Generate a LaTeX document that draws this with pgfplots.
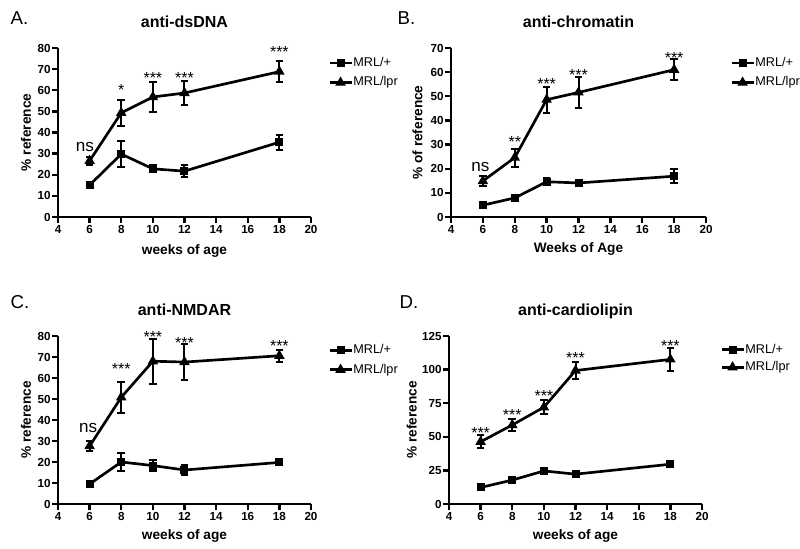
\documentclass[border=0pt]{standalone}
\usepackage{fontspec}
\setmainfont{Liberation Sans}
\usepackage{pgfplots}
\pgfplotsset{compat=1.18}

% common look of the four panels (1px = 0.75pt)
\pgfplotsset{
  panel/.style={
    scale only axis,
    clip=false,
    axis lines=left,
    axis line style={-, line width=2pt},
    tick style={line width=1.8pt, black},
    major tick length=4.5pt,
    tick align=outside,
    xmin=4, xmax=20, xtick={4,6,...,20},
    ymin=0,
    tick label style={font=\bfseries\fontsize{8.75}{9}\selectfont},
    xticklabel style={inner sep=1.5pt},
    yticklabel style={inner sep=0.8pt},
    /pgf/number format/assume math mode=true,
    label style={font=\bfseries\fontsize{10.25}{12}\selectfont},
    every axis title shift=0pt,
    title style={font=\bfseries\fontsize{12}{13}\selectfont, anchor=base, yshift=0pt},
    xlabel style={anchor=base},
    ylabel style={anchor=base, at={(-0.107,0.5)}},
    legend style={draw=none, fill=none, anchor=west, inner sep=0pt,
      font=\fontsize{9.5}{11}\selectfont,
      nodes={inner xsep=0.4pt, inner ysep=0pt, text height=7pt, text depth=2pt}},
    legend cell align=left,
    legend image code/.code={
      \draw[mark repeat=2, mark phase=2] plot coordinates {(0pt,0pt) (8.25pt,0pt) (16.5pt,0pt)};},
    every axis plot/.append style={line width=2pt, black},
    error bars/error bar style={line width=1.5pt},
    error bars/error mark options={rotate=90, mark size=2.9pt, line width=1.5pt},
  },
  wt/.style={mark=square*, mark size=2pt, error bars/.cd, y dir=both, y explicit},
  lpr/.style={mark=triangle*, mark size=2.6pt, error bars/.cd, y dir=both, y explicit},
}
\tikzset{
  star/.style={font=\fontsize{12}{12}\selectfont, anchor=base, yshift=-6.8pt},
  ns/.style={font=\fontsize{12.8}{13}\selectfont, anchor=base, yshift=-3.4pt},
  plabel/.style={font=\fontsize{14}{14}\selectfont, anchor=base west},
}

\begin{document}
\begin{tikzpicture}
\path[use as bounding box] (0,0) rectangle (600pt,-411.75pt);

% ---------- A ----------
\begin{axis}[panel,
  at={(43.5pt,-162.75pt)}, anchor=south west,
  width=189.75pt, height=126.75pt,
  ymax=80, ytick={0,10,...,80},
  title={anti-dsDNA}, title style={at={(0.5,1.124)}},
  xlabel={weeks of age}, xlabel style={at={(0.5,-0.219)}},
  ylabel={\% reference},
  legend style={at={(1.067,0.853)}, row sep=5.6pt},
]
\addplot[wt] coordinates {
  (6,15.1) +- (0,0.8) (8,29.8) +- (0,6.2) (10,22.8) +- (0,1.6)
  (12,21.7) +- (0,2.7) (18,35.4) +- (0,3.6)};
\addlegendentry{MRL/+}
\addplot[lpr] coordinates {
  (6,26.6) +- (0,1.8) (8,49.3) +- (0,6.0) (10,56.8) +- (0,6.9)
  (12,58.7) +- (0,5.7) (18,68.8) +- (0,5.0)};
\addlegendentry{MRL/lpr}
\node[ns] at (axis cs:5.7,33.3) {ns};
\node[star] at (axis cs:8,61.7) {*};
\node[star] at (axis cs:10,67.5) {***};
\node[star] at (axis cs:12,67.5) {***};
\node[star] at (axis cs:18,79.8) {***};
\end{axis}

% ---------- B ----------
\begin{axis}[panel,
  at={(338.25pt,-162.75pt)}, anchor=south west,
  width=191.25pt, height=126.75pt,
  ymax=70, ytick={0,10,...,70},
  title={anti-chromatin}, title style={at={(0.5,1.124)}},
  xlabel={Weeks of Age}, xlabel style={at={(0.5,-0.213)}},
  ylabel={\% of reference},
  ylabel style={at={(-0.112,0.5)}},
  legend style={at={(1.094,0.853)}, row sep=5.6pt},
]
\addplot[wt] coordinates {
  (6,4.9) +- (0,0.5) (8,7.9) +- (0,1.0) (10,14.6) +- (0,1.5)
  (12,14.1) +- (0,0.6) (18,16.9) +- (0,3.0)};
\addlegendentry{MRL/+}
\addplot[lpr] coordinates {
  (6,14.9) +- (0,2.0) (8,24.6) +- (0,3.7) (10,48.6) +- (0,5.4)
  (12,51.6) +- (0,6.5) (18,61.0) +- (0,4.3)};
\addlegendentry{MRL/lpr}
\node[ns] at (axis cs:5.85,20.8) {ns};
\node[star] at (axis cs:8,32.6) {**};
\node[star] at (axis cs:10,56.5) {***};
\node[star] at (axis cs:12,60.5) {***};
\node[star] at (axis cs:18,67.3) {***};
\end{axis}

% ---------- C ----------
\begin{axis}[panel,
  at={(43.5pt,-378pt)}, anchor=south west,
  width=189.75pt, height=126pt,
  ymax=80, ytick={0,10,...,80},
  title={anti-NMDAR}, title style={at={(0.5,1.125)}},
  xlabel={weeks of age}, xlabel style={at={(0.5,-0.214)}},
  ylabel={\% reference},
  legend style={at={(1.067,0.857)}, row sep=5.5pt},
]
\addplot[wt] coordinates {
  (6,9.5) +- (0,0.5) (8,20.0) +- (0,4.2) (10,18.3) +- (0,2.6)
  (12,16.2) +- (0,2.4) (18,19.8) +- (0,0.5)};
\addlegendentry{MRL/+}
\addplot[lpr] coordinates {
  (6,27.6) +- (0,2.4) (8,50.8) +- (0,7.3) (10,68.0) +- (0,10.7)
  (12,67.6) +- (0,8.7) (18,70.6) +- (0,2.8)};
\addlegendentry{MRL/lpr}
\node[ns] at (axis cs:5.9,36.3) {ns};
\node[star] at (axis cs:8,66) {***};
\node[star] at (axis cs:10,81) {***};
\node[star] at (axis cs:12,78.3) {***};
\node[star] at (axis cs:18,76.8) {***};
\end{axis}

% ---------- D ----------
\begin{axis}[panel,
  at={(336.75pt,-378pt)}, anchor=south west,
  width=189.75pt, height=126pt,
  ymax=125, ytick={0,25,...,125},
  title={anti-cardiolipin}, title style={at={(0.5,1.125)}},
  xlabel={weeks of age}, xlabel style={at={(0.5,-0.214)}},
  ylabel={\% reference},
  ylabel style={at={(-0.128,0.5)}},
  legend style={at={(1.071,0.866)}, row sep=4.2pt},
]
\addplot[wt] coordinates {
  (6,12.3) +- (0,1.0) (8,17.8) +- (0,1.0) (10,24.6) +- (0,1.2)
  (12,22.2) +- (0,1.0) (18,29.6) +- (0,1.0)};
\addlegendentry{MRL/+}
\addplot[lpr] coordinates {
  (6,46.3) +- (0,4.7) (8,58.8) +- (0,4.3) (10,72.0) +- (0,5.2)
  (12,99.3) +- (0,6.4) (18,107.6) +- (0,8.3)};
\addlegendentry{MRL/lpr}
\node[star] at (axis cs:6,55.7) {***};
\node[star] at (axis cs:8,68.6) {***};
\node[star] at (axis cs:10,82.9) {***};
\node[star] at (axis cs:12,111) {***};
\node[star] at (axis cs:18,120.5) {***};
\end{axis}

% panel letters
\node[plabel] at (4.5pt,-18.75pt) {A.};
\node[plabel] at (294.75pt,-18.75pt) {B.};
\node[plabel] at (4.5pt,-231pt) {C.};
\node[plabel] at (296.25pt,-231pt) {D.};
\end{tikzpicture}
\end{document}
